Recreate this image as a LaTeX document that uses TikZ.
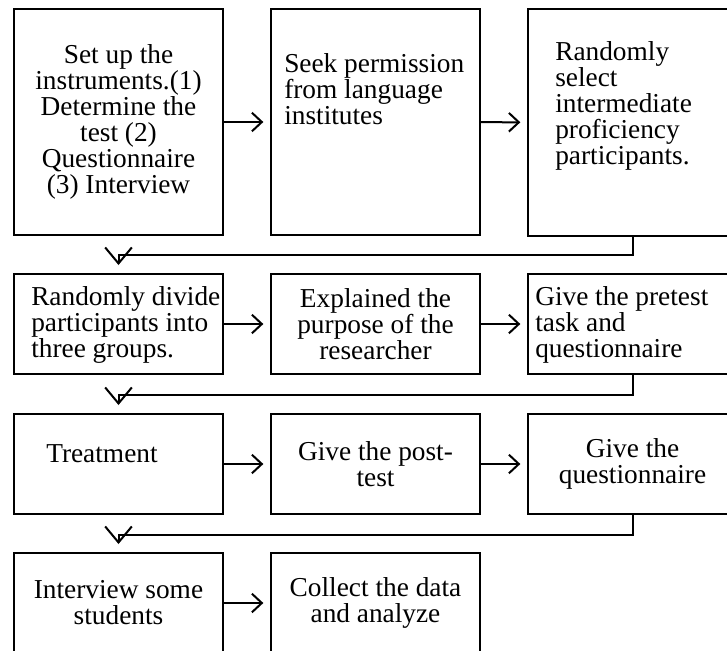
\documentclass[tikz,border=0pt]{standalone}
\usepackage{fontspec}
\setmainfont{Liberation Serif}
\usetikzlibrary{arrows.meta}

\tikzset{
  box/.style={draw, line width=1.5pt, inner sep=0pt, anchor=north west, minimum width=156.75pt},
  txt/.style={inner sep=0pt, font=\fontsize{20.5}{19.5}\selectfont},
  arr/.style={line width=1.5pt, -{Straight Barb[length=7.5pt,width=14pt]}, shorten >=5pt},
  darr/.style={line width=1.5pt, -{Straight Barb[length=12pt,width=20pt]}, shorten >=6pt}
}

\begin{document}
\begin{tikzpicture}[x=0.75pt, y=-0.75pt]
\useasboundingbox (0,0) rectangle (727,650);
\clip (0,0) rectangle (727,650);

% row 1
\node[box, minimum height=169.5pt] (r1a) at (13,8) {};
\node[box, minimum height=169.5pt] (r1b) at (270,8) {};
\node[box, minimum height=170.25pt] (r1c) at (527,8) {};

\node[txt, align=center] (t1a) at (r1a.center) {Set up the\\instruments.(1)\\Determine the\\test (2)\\Questionnaire\\(3) Interview};
\node[txt, align=left, anchor=north west] (t1b) at (284,53) {Seek permission\\from language\\institutes};
\node[txt, align=left, anchor=north west] (t1c) at (555,41) {Randomly\\select\\intermediate\\proficiency\\participants.};

% row 2
\node[box, minimum height=75pt] (r2a) at (13,273) {};
\node[box, minimum height=75pt] (r2b) at (270,273) {};
\node[box, minimum height=75pt] (r2c) at (527,273) {};

\node[txt, align=left, anchor=north west] (t2a) at (31,286) {Randomly divide\\participants into\\three groups.};
\node[txt, align=center] (t2b) at (r2b.center) {Explained the\\purpose of the\\researcher};
\node[txt, align=left, anchor=north west] (t2c) at (535,286) {Give the pretest\\task and\\questionnaire};

% row 3
\node[box, minimum height=75pt] (r3a) at (13,413) {};
\node[box, minimum height=75pt] (r3b) at (270,413) {};
\node[box, minimum height=75pt] (r3c) at (527,413) {};

\node[txt, anchor=base west] (t3a) at (46,462) {Treatment};
\node[txt, align=center] (t3b) at (r3b.center) {Give the post-\\test};
\node[txt, align=center] (t3c) at (r3c.center) {Give the\\questionnaire};

% row 4
\node[box, minimum height=75pt] (r4a) at (13,552) {};
\node[box, minimum height=75pt] (r4b) at (270,552) {};

\node[txt, align=center] (t4a) at (r4a.center) {Interview some\\students};
\node[txt, align=center] (t4b) at (r4b.center) {Collect the data\\and analyze};

% arrows
\draw[arr] (r1a) -- (r1b);
\draw[arr] (r1b) -- (r1c);
\draw[arr] (r2a) -- (r2b);
\draw[arr] (r2b) -- (r2c);
\draw[arr] (r3a) -- (r3b);
\draw[arr] (r3b) -- (r3c);
\draw[arr] (r4a) -- (r4b);

\draw[darr] (r1c.south) -- ++(0,18) -| (r2a.north);
\draw[darr] (r2c.south) -- ++(0,20) -| (r3a.north);
\draw[darr] (r3c.south) -- ++(0,20) -| (r4a.north);

\end{tikzpicture}
\end{document}
